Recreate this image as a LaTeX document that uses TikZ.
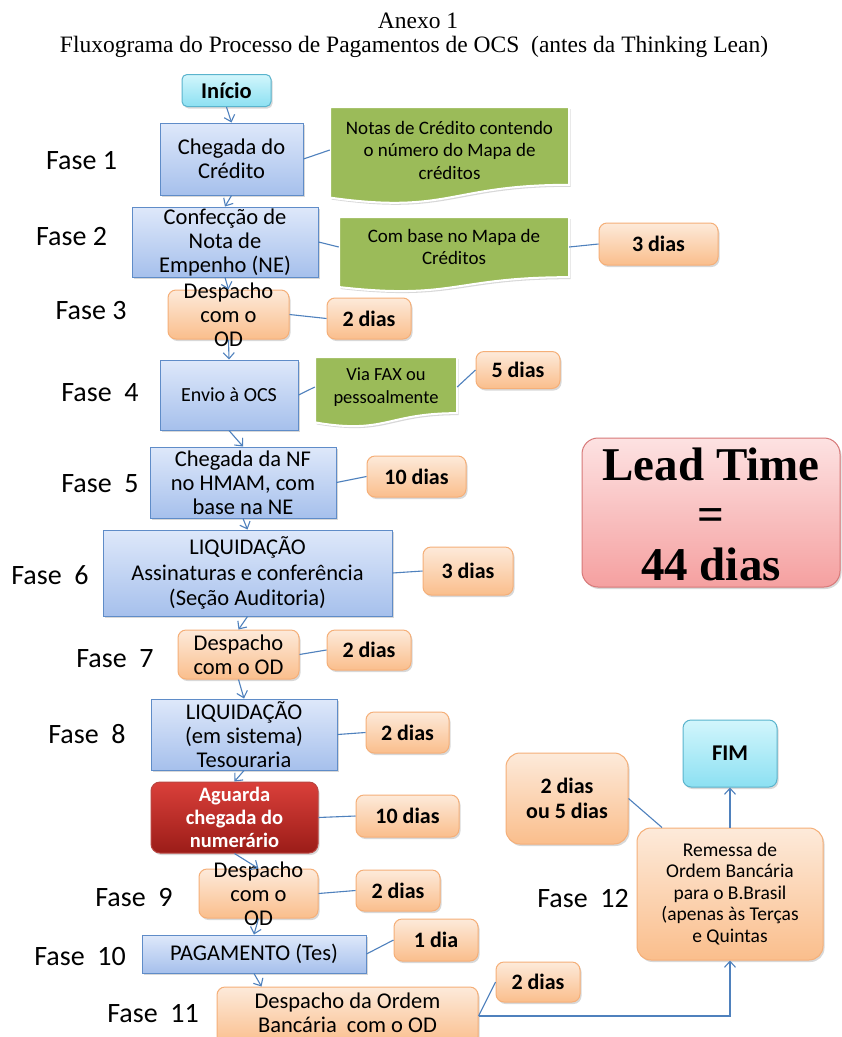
\documentclass[tikz,border=0pt]{standalone}
\usepackage{fontspec}
\setmainfont{Carlito}
\newfontfamily\titlefont{Liberation Serif}
\usetikzlibrary{arrows.meta,shadows,calc}
\definecolor{cline}{RGB}{79,129,189}
\definecolor{bluetop}{RGB}{222,232,250}
\definecolor{bluebot}{RGB}{166,192,236}
\definecolor{blueedge}{RGB}{95,140,200}
\definecolor{ortop}{RGB}{253,234,218}
\definecolor{orbot}{RGB}{250,190,140}
\definecolor{oredge}{RGB}{245,175,120}
\definecolor{notegreen}{RGB}{155,187,89}
\definecolor{cyantop}{RGB}{210,246,252}
\definecolor{cyanbot}{RGB}{140,224,242}
\definecolor{cyanedge}{RGB}{90,180,205}
\definecolor{pinktop}{RGB}{253,226,226}
\definecolor{pinkbot}{RGB}{245,160,160}
\definecolor{pinkedge}{RGB}{215,120,120}
\definecolor{redtop}{RGB}{218,64,58}
\definecolor{redbot}{RGB}{155,28,24}
\definecolor{rededge}{RGB}{185,70,65}
\newcommand\fsbox{\fontsize{22.5}{24}\selectfont}
\newcommand\fslbl{\fontsize{22}{25}\selectfont\bfseries}
\newcommand\fsfase{\fontsize{28}{30}\selectfont}
\newcommand\fsnote{\fontsize{19}{22.5}\selectfont}
\newcommand\docnote[4]{%
  \fill[notegreen, draw=white, line width=2pt, drop shadow={shadow xshift=1.5pt,shadow yshift=-2pt,opacity=0.3}]
    (#1,#2) -- (#3,#2) -- (#3,{#2+0.802*(#4-#2)})
    .. controls ({(#1+#3)/2},{#2+0.802*(#4-#2)}) and ({(#1+#3)/2},{#2+1.108*(#4-#2)}) ..
    (#1,{#2+0.934*(#4-#2)}) -- cycle;}
\tikzset{
  shad/.style={drop shadow={shadow xshift=1.5pt,shadow yshift=-2pt,opacity=0.3}},
  bluebox/.style={draw=blueedge, line width=1pt, top color=bluetop, bottom color=bluebot, align=center, font=\fsbox, inner sep=1pt, shad},
  orbox/.style={draw=oredge, line width=1pt, top color=ortop, bottom color=orbot, rounded corners=8pt, align=center, font=\fsbox, inner sep=1pt, shad},
  lblbox/.style={orbox, font=\fslbl},
  btext/.style={align=center, font=\fsbox, inner sep=0pt},
  notetext/.style={align=center, font=\fsnote, inner sep=0pt},
  faselbl/.style={font=\fsfase, inner sep=0pt},
  conn/.style={draw=cline, line width=1.1pt},
  arr/.style={conn, -{Straight Barb[length=6pt,width=11pt]}},
}
\begin{document}
\begin{tikzpicture}[x=1pt,y=-1pt]
\useasboundingbox (0,0) rectangle (842,1037);
\clip (0,0) rectangle (842,1037);
\fill[white] (0,0) rectangle (842,1037);

% title
\node[font=\titlefont\fontsize{23.5}{25}\selectfont, inner sep=0pt] (ttl1) at (418,21) {Anexo 1};
\node[font=\titlefont\fontsize{23.5}{25}\selectfont, inner sep=0pt] (ttl2) at (414,47) {Fluxograma do Processo de Pagamentos de OCS\ \ (antes da Thinking Lean)};

% green notes (shapes)
\docnote{330}{107}{569}{204}
\docnote{339}{217}{569}{292}
\docnote{315}{357}{457}{427}

% main column
\node[draw=cyanedge, line width=1pt, top color=cyantop, bottom color=cyanbot, rounded corners=5pt, shad,
      minimum width=89pt, minimum height=32pt, font=\fontsize{22.5}{24}\selectfont\bfseries] (inicio) at (226.5,90.5) {Início};
\node[bluebox, minimum width=143pt, minimum height=72pt] (c1) at (231.5,159) {Chegada do\\Crédito};
\node[bluebox, minimum width=186pt, minimum height=70pt] (c2) at (225,242) {};
\node[btext] (c2t) at (c2) {Confecção de\\Nota de\\Empenho (NE)};
\node[orbox, minimum width=121pt, minimum height=49pt] (o3) at (228.5,314.5) {};
\node[btext] (o3t) at (o3) {Despacho\\com o\\OD};
\node[bluebox, minimum width=138pt, minimum height=70pt, font=\fontsize{20}{22}\selectfont] (e4) at (229,395) {Envio à OCS};
\node[bluebox, minimum width=186pt, minimum height=71pt] (e5) at (243,482.5) {};
\node[btext] (e5t) at (e5) {Chegada da NF\\no HMAM, com\\base na NE};
\node[bluebox, minimum width=289pt, minimum height=86pt] (l6) at (247.5,573) {};
\node[btext, font=\fontsize{22.5}{25.5}\selectfont] (l6t) at (l6) {LIQUIDAÇÃO\\Assinaturas e conferência\\(Seção Auditoria)};
\node[orbox, minimum width=121pt, minimum height=49pt] (o7) at (238.5,654.5) {};
\node[btext] (o7t) at (o7) {Despacho\\com o OD};
\node[bluebox, minimum width=186pt, minimum height=71pt] (l8) at (244,734.5) {};
\node[btext] (l8t) at (l8) {LIQUIDAÇÃO\\(em sistema)\\Tesouraria};
\node[draw=rededge, line width=1pt, top color=redtop, bottom color=redbot, rounded corners=9pt, shad,
      minimum width=167pt, minimum height=71pt] (ag) at (234.5,817.5) {};
\node[btext, text=white, font=\fontsize{20.5}{23}\selectfont\bfseries] (agt) at (ag) {Aguarda\\chegada do\\numerário};
\node[orbox, minimum width=119pt, minimum height=49pt] (o9) at (258.5,893.5) {};
\node[btext] (o9t) at (o9) {Despacho\\com o\\OD};
\node[bluebox, minimum width=224pt, minimum height=38pt] (p10) at (254,954) {PAGAMENTO (Tes)};
\node[orbox, minimum width=261pt, minimum height=58pt] (o11) at (347.5,1016) {};
\node[btext] (o11t) at (347.5,1013) {Despacho da Ordem\\Bancária\ \ com o OD};

% right column
\node[orbox, minimum width=186pt, minimum height=132pt, rounded corners=14pt] (rem) at (730,894) {};
\node[btext, font=\fontsize{19.5}{21.5}\selectfont] (remt) at (rem) {Remessa de\\Ordem Bancária\\para o B.Brasil\\(apenas às Terças\\e Quintas};
\node[lblbox, minimum width=122pt, minimum height=91pt, rounded corners=14pt] (t25) at (567,798.5) {2 dias\\ou 5 dias};
\node[draw=cyanedge, line width=1pt, top color=cyantop, bottom color=cyanbot, rounded corners=8pt, shad,
      minimum width=94pt, minimum height=67pt, font=\fontsize{22.5}{24}\selectfont\bfseries] (fim) at (730,753.5) {FIM};
\node[draw=pinkedge, line width=1pt, top color=pinktop, bottom color=pinkbot, rounded corners=16pt, shad,
      minimum width=258pt, minimum height=149pt] (lead) at (711,512.5) {};
\node[align=center, inner sep=0pt, font=\titlefont\fontsize{47}{50}\selectfont\bfseries] (leadt) at (711,514) {Lead Time\\=\\44 dias};

% note texts
\node[notetext, minimum width=239pt, minimum height=80pt] (n1) at (449.5,150) {Notas de Crédito contendo\\o número do Mapa de\\créditos};
\node[notetext, minimum width=230pt, minimum height=60pt] (n2) at (454,247) {Com base no Mapa de\\Créditos};
\node[notetext, minimum width=142pt, minimum height=56pt, font=\fontsize{18.5}{22.5}\selectfont] (n3) at (386,387) {Via FAX ou\\pessoalmente};

% day labels
\node[lblbox, minimum width=119pt, minimum height=42pt] (d3) at (658.5,244) {3 dias};
\node[lblbox, minimum width=84pt, minimum height=41pt] (t3) at (369,318.5) {2 dias};
\node[lblbox, minimum width=84pt, minimum height=37pt] (f5) at (518,370) {5 dias};
\node[lblbox, minimum width=99pt, minimum height=41pt] (g10) at (416.5,476.5) {10 dias};
\node[lblbox, minimum width=90pt, minimum height=48pt] (h3) at (468,571) {3 dias};
\node[lblbox, minimum width=84pt, minimum height=40pt] (t7) at (369,650) {2 dias};
\node[lblbox, minimum width=83pt, minimum height=41pt] (t8) at (407.5,732.5) {2 dias};
\node[lblbox, minimum width=103pt, minimum height=42pt] (t10b) at (407.5,816) {10 dias};
\node[lblbox, minimum width=84pt, minimum height=41pt] (t9) at (398,890.5) {2 dias};
\node[lblbox, minimum width=84pt, minimum height=42pt] (t1) at (436,940) {1 dia};
\node[lblbox, minimum width=84pt, minimum height=40pt] (t11) at (538,982) {2 dias};

% fase labels
\node[faselbl] (f1) at (81.5,161) {Fase 1};
\node[faselbl] (f2) at (71.5,237) {Fase 2};
\node[faselbl] (f3) at (91,311) {Fase 3};
\node[faselbl] (f4) at (100,393) {Fase\ \ 4};
\node[faselbl] (fz5) at (100,484) {Fase\ \ 5};
\node[faselbl] (f6) at (50,575) {Fase\ \ 6};
\node[faselbl] (f7) at (115,659) {Fase\ \ 7};
\node[faselbl] (f8) at (87,734) {Fase\ \ 8};
\node[faselbl] (f9) at (134,898) {Fase\ \ 9};
\node[faselbl] (f10) at (80,957) {Fase\ \ 10};
\node[faselbl] (f11) at (153,1014) {Fase\ \ 11};
\node[faselbl] (f12) at (583,899) {Fase\ \ 12};

% vertical arrows
\draw[arr] (inicio.south) -- (c1.north);
\draw[arr] (c1.south) -- (c2.north);
\draw[arr] (c2.south) -- (o3.north);
\draw[arr] (o3.south) -- (e4.north);
\draw[arr] (e4.south) -- (e5.north);
\draw[arr] (e5.south) -- (l6.north);
\draw[arr] (l6.south) -- (o7.north);
\draw[arr] (o7.south) -- (l8.north);
\draw[arr] (l8.south) -- (ag.north);
\draw[arr] (ag.south) -- (o9.north);
\draw[arr] (o9.south) -- (p10.north);
\draw[arr] (p10.south) -- ([xshift=-86pt]o11.north);
\draw[arr] (o11.east) -| (rem.south);
\draw[arr] (rem.north) -- (fim.south);

% side links
\coordinate (remtop) at ($(rem.north)+(-68,0)$);
\draw[conn] (c1.east) -- (n1.west);
\draw[conn] (c2.east) -- (n2.west);
\draw[conn] (n2.east) -- (d3.west);
\draw[conn] (o3.east) -- (t3.west);
\draw[conn] (e4.east) -- (n3.west);
\draw[conn] (n3.east) -- (f5.west);
\draw[conn] (e5.east) -- (g10.west);
\draw[conn] (l6.east) -- (h3.west);
\draw[conn] (o7.east) -- (t7.west);
\draw[conn] (l8.east) -- (t8.west);
\draw[conn] (ag.east) -- (t10b.west);
\draw[conn] (o9.east) -- (t9.west);
\draw[conn] (p10.east) -- (t1.west);
\draw[conn] (o11.east) -- (t11.west);
\draw[conn] (t25.east) -- (remtop);
\end{tikzpicture}
\end{document}
